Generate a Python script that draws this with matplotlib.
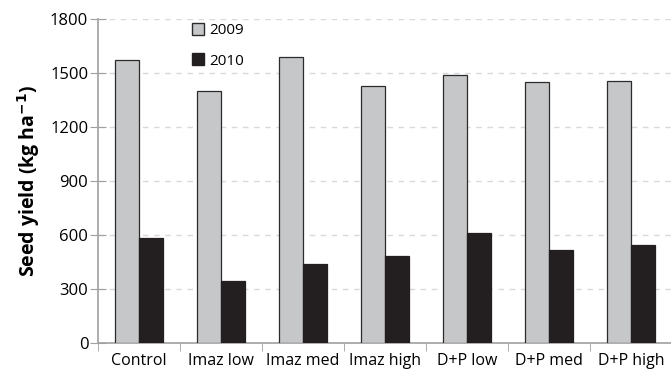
import numpy as np
import matplotlib.pyplot as plt
from matplotlib.patches import Patch

# Seed yield by treatment, two years
treatments = ['Control', 'Imaz low', 'Imaz med', 'Imaz high', 'D+P low', 'D+P med', 'D+P high']
yield_2009 = [1572, 1402, 1591, 1430, 1489, 1452, 1457]
yield_2010 = [582, 343, 438, 483, 610, 516, 544]
yticks = [0, 300, 600, 900, 1200, 1500, 1800]

plt.rcParams['font.family'] = ['Open Sans', 'DejaVu Sans']

fig = plt.figure(figsize=(6.71, 3.74), dpi=100)
ax = fig.add_axes([98 / 671, 31 / 374, 574 / 671, 324 / 374])

x = np.arange(len(treatments))
w = 0.29
ax.bar(x - w / 2, yield_2009, w, color='#c6c7c9', edgecolor='#2b2b2b', linewidth=0.9, label='2009', zorder=3)
ax.bar(x + w / 2, yield_2010, w, color='#231f20', edgecolor='#231f20', linewidth=0.9, label='2010', zorder=3)

ax.set_xlim(-0.5, len(treatments) - 0.5)
ax.set_ylim(0, 1800)
ax.set_yticks(yticks)
ax.tick_params(axis='y', labelsize=12, direction='inout', length=12, color='#a0a0a0', pad=1)
ax.yaxis.grid(True, linestyle=(0, (4, 4)), color='#d9d9d9', linewidth=1, zorder=0)

# category labels centred, tick marks on the boundaries
ax.set_xticks(x)
ax.set_xticklabels(treatments, fontsize=11.5)
ax.set_xticks(np.arange(len(treatments)) - 0.5, minor=True)
ax.tick_params(axis='x', which='major', length=0, pad=7)
ax.tick_params(axis='x', which='minor', length=6, color='#a0a0a0', direction='out')

for side in ['top', 'right']:
    ax.spines[side].set_visible(False)
for side in ['left', 'bottom']:
    ax.spines[side].set_color('#a0a0a0')
    ax.spines[side].set_linewidth(1.2)

ax.set_ylabel('Seed yield (kg ha$^{\\mathbf{-1}}$)', fontsize=14, fontweight='bold', labelpad=6)

handles = [Patch(facecolor='#c6c7c9', edgecolor='#2b2b2b', label='2009'),
           Patch(facecolor='#231f20', edgecolor='#231f20', label='2010')]
ax.legend(handles=handles, loc='upper left', bbox_to_anchor=(0.14, 1.03), frameon=False,
          fontsize=11, handlelength=0.8, handleheight=0.8, handletextpad=0.3, labelspacing=1.0)

fig.savefig('out.png', dpi=100)
